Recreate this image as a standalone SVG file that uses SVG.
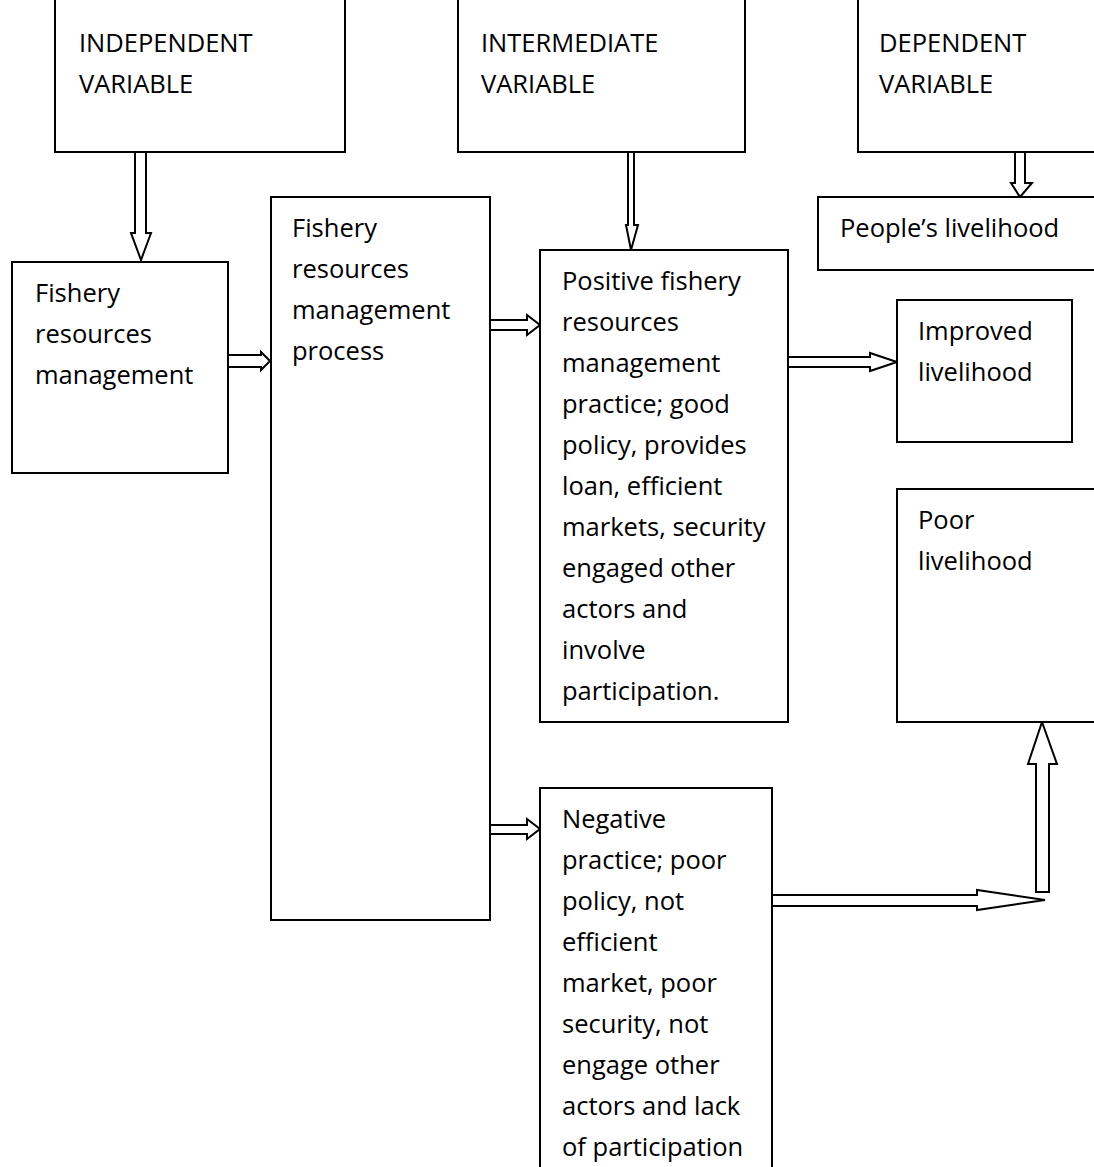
<svg xmlns="http://www.w3.org/2000/svg" width="1094" height="1167" viewBox="0 0 1094 1167">
<style>
.box{fill:#fff;stroke:#000;stroke-width:2}
.arr{fill:#fff;stroke:#000;stroke-width:2;stroke-linejoin:miter}
text{font-family:"Open Sans","Noto Sans","Liberation Sans",sans-serif;font-size:25.5px;fill:#000}
</style>
<rect width="1094" height="1167" fill="#fff"/>
<g id="connectors">
<polygon class="arr" points="135,152 146,152 146,233 151,233 141,260 131,233 135,233"/>
<polygon class="arr" points="228,355 261,355 261,352 270,361 261,370 261,367 228,367"/>
<polygon class="arr" points="490,320 527,320 527,315 540,325 527,335 527,330 490,330"/>
<polygon class="arr" points="628,152 634,152 634,225 638,225 631,250 626,225 628,225"/>
<polygon class="arr" points="1015,152 1025,152 1025,183 1032,183 1020,197 1011,183 1015,183"/>
<polygon class="arr" points="788,357 870,357 870,353 897,362 870,371 870,367 788,367"/>
<polygon class="arr" points="1036,892 1049,892 1049,764 1057,764 1042,722 1028,764 1036,764"/>
<polygon class="arr" points="772,895 977,895 977,890 1045,900 977,910 977,906 772,906"/>
<polygon class="arr" points="490,825 527,825 527,819 540,829 527,839 527,834 490,834"/>
</g>
<g id="n-independent"><rect class="box" x="55" y="-5" width="290" height="157"/><text x="79" y="52">INDEPENDENT</text><text x="79" y="93">VARIABLE</text></g>
<g id="n-intermediate"><rect class="box" x="458" y="-5" width="287" height="157"/><text x="481" y="52">INTERMEDIATE</text><text x="481" y="93">VARIABLE</text></g>
<g id="n-dependent"><rect class="box" x="858" y="-5" width="250" height="157"/><text x="879" y="52">DEPENDENT</text><text x="879" y="93">VARIABLE</text></g>
<g id="n-frm"><rect class="box" x="12" y="262" width="216" height="211"/><text x="35" y="302">Fishery</text><text x="35" y="343">resources</text><text x="35" y="384">management</text></g>
<g id="n-process"><rect class="box" x="271" y="197" width="219" height="723"/><text x="292" y="237">Fishery</text><text x="292" y="278">resources</text><text x="292" y="319">management</text><text x="292" y="360">process</text></g>
<g id="n-positive"><rect class="box" x="540" y="250" width="248" height="472"/><text x="562" y="290">Positive fishery</text><text x="562" y="331">resources</text><text x="562" y="372">management</text><text x="562" y="413">practice; good</text><text x="562" y="454">policy, provides</text><text x="562" y="495">loan, efficient</text><text x="562" y="536">markets, security</text><text x="562" y="577">engaged other</text><text x="562" y="618">actors and</text><text x="562" y="659">involve</text><text x="562" y="700">participation.</text></g>
<g id="n-people"><rect class="box" x="818" y="197" width="290" height="73"/><text x="840" y="237">People’s livelihood</text></g>
<g id="n-improved"><rect class="box" x="897" y="300" width="175" height="142"/><text x="918" y="340">Improved</text><text x="918" y="381">livelihood</text></g>
<g id="n-poor"><rect class="box" x="897" y="489" width="210" height="233"/><text x="918" y="529">Poor</text><text x="918" y="570">livelihood</text></g>
<g id="n-negative"><rect class="box" x="540" y="788" width="232" height="400"/><text x="562" y="828">Negative</text><text x="562" y="869">practice; poor</text><text x="562" y="910">policy, not</text><text x="562" y="951">efficient</text><text x="562" y="992">market, poor</text><text x="562" y="1033">security, not</text><text x="562" y="1074">engage other</text><text x="562" y="1115">actors and lack</text><text x="562" y="1156">of participation</text></g>
</svg>
